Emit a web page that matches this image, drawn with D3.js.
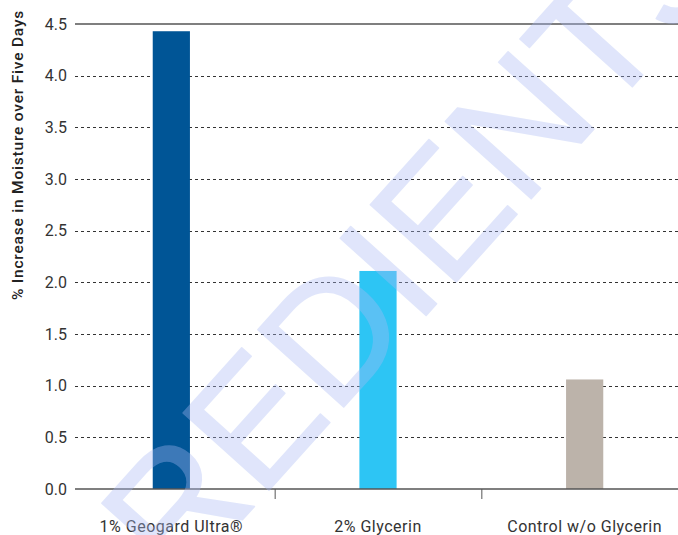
<!DOCTYPE html>
<html lang="en">
<head>
    <meta charset="UTF-8">
    <title>Moisture Increase</title>
    <script src="https://d3js.org/d3.v7.min.js"></script>
    <style>
        body {
            margin: 0;
            padding: 0;
            background: #fff;
            font-family: Roboto, "Noto Sans", sans-serif;
        }
        .tick-label {
            font-size: 16px;
            fill: #333;
        }
        .grid {
            stroke: #333;
            stroke-width: 1;
            stroke-dasharray: 3, 3;
        }
    </style>
</head>
<body>
    <div id="chart"></div>
    <script>
        // chart data
        const categories = ["1% Geogard Ultra\u00AE", "2% Glycerin", "Control w/o Glycerin"];
        const values = [4.43, 2.11, 1.06];
        const barColors = ["#005596", "#2dc5f4", "#bcb3aa"];
        const yTicks = [0, 0.5, 1.0, 1.5, 2.0, 2.5, 3.0, 3.5, 4.0, 4.5];

        const W = 678, H = 535;
        const plotLeft = 75, plotRight = 678;

        const svg = d3.select("#chart")
            .append("svg")
            .attr("width", W)
            .attr("height", H);

        const x = d3.scaleBand()
            .domain(categories)
            .range([68, 688])
            .paddingInner(0.82)
            .paddingOuter(0.41);

        const y = d3.scaleLinear()
            .domain([0, 4.5])
            .range([489, 24]);

        // dashed gridlines
        svg.selectAll(".grid")
            .data(yTicks.filter(d => d > 0 && d < 4.5))
            .enter().append("line")
            .attr("class", "grid")
            .attr("x1", plotLeft)
            .attr("x2", plotRight)
            .attr("y1", d => Math.round(y(d)) + 0.5)
            .attr("y2", d => Math.round(y(d)) + 0.5);

        // top line
        svg.append("line")
            .attr("x1", plotLeft).attr("x2", plotRight)
            .attr("y1", y(4.5)).attr("y2", y(4.5))
            .attr("stroke", "#555").attr("stroke-width", 1.5);

        // bars
        svg.selectAll(".bar")
            .data(values)
            .enter().append("rect")
            .attr("class", "bar")
            .attr("x", (d, i) => x(categories[i]))
            .attr("width", x.bandwidth())
            .attr("y", d => y(d))
            .attr("height", d => y(0) - y(d))
            .attr("fill", (d, i) => barColors[i]);

        // baseline
        svg.append("line")
            .attr("x1", plotLeft).attr("x2", plotRight)
            .attr("y1", y(0)).attr("y2", y(0))
            .attr("stroke", "#555").attr("stroke-width", 1.5);

        // ticks between categories
        const step = x.step();
        svg.selectAll(".xtick")
            .data(categories.slice(1))
            .enter().append("line")
            .attr("x1", d => x(d) - step * x.paddingInner() / 2 + 0.5)
            .attr("x2", d => x(d) - step * x.paddingInner() / 2 + 0.5)
            .attr("y1", y(0))
            .attr("y2", y(0) + 10)
            .attr("stroke", "#555")
            .attr("stroke-width", 1);

        // y tick labels
        svg.selectAll(".ylab")
            .data(yTicks)
            .enter().append("text")
            .attr("class", "tick-label")
            .attr("x", 67)
            .attr("y", d => y(d))
            .attr("dy", "0.36em")
            .attr("text-anchor", "end")
            .text(d => d.toFixed(1));

        // x labels
        svg.selectAll(".xlab")
            .data(categories)
            .enter().append("text")
            .attr("class", "tick-label")
            .attr("x", d => x(d) + x.bandwidth() / 2)
            .attr("y", 532)
            .attr("text-anchor", "middle")
            .style("letter-spacing", "0.5px")
            .text(d => d);

        // y axis title
        svg.append("text")
            .attr("transform", "translate(23,155) rotate(-90)")
            .attr("text-anchor", "middle")
            .style("font-size", "15.5px")
            .style("font-weight", 500)
            .style("letter-spacing", "0.8px")
            .style("fill", "#222")
            .text("% Increase in Moisture over Five Days");

        // watermark
        const fs = 168;
        svg.append("text")
            .attr("transform", "translate(517,123) rotate(-48)")
            .attr("x", -5.195 * fs)
            .attr("y", 0.365 * fs)
            .style("font-family", "'Liberation Sans', sans-serif")
            .style("font-size", fs + "px")
            .style("fill", "rgb(170,186,244)")
            .style("stroke", "rgb(170,186,244)")
            .style("stroke-width", 1.5)
            .style("stroke-linejoin", "round")
            .style("opacity", 0.36)
            .text("INGREDIENTS");
    </script>
</body>
</html>
